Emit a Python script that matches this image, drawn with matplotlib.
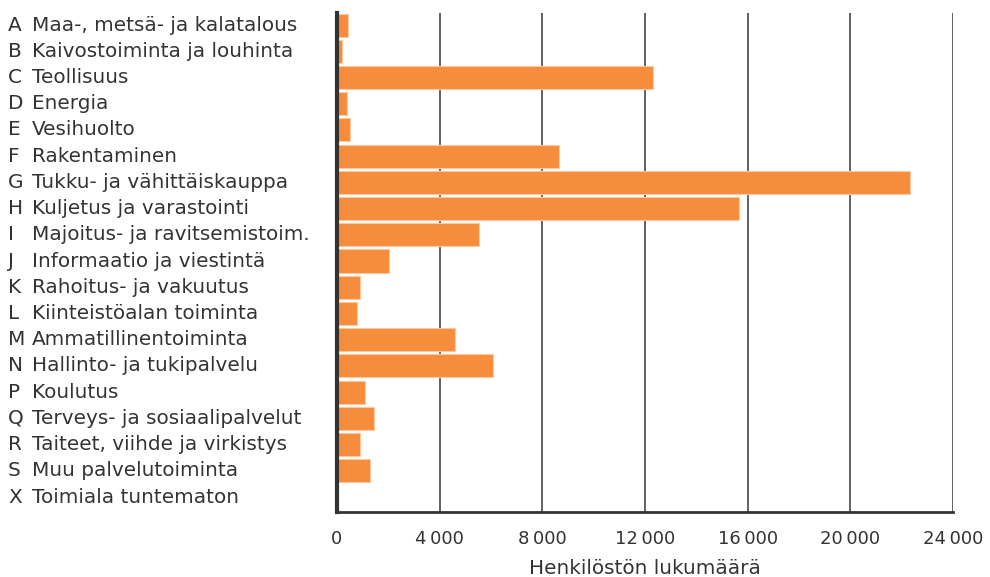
#!/usr/bin/env python3
"""Henkilöstön lukumäärä toimialoittain - horizontal bar chart."""

import matplotlib
matplotlib.use("Agg")
import matplotlib.pyplot as plt
from matplotlib.ticker import FuncFormatter
from matplotlib.transforms import blended_transform_factory

# Data
letters = ["A", "B", "C", "D", "E", "F", "G", "H", "I", "J",
           "K", "L", "M", "N", "P", "Q", "R", "S", "X"]
names = [
    "Maa-, metsä- ja kalatalous",
    "Kaivostoiminta ja louhinta",
    "Teollisuus",
    "Energia",
    "Vesihuolto",
    "Rakentaminen",
    "Tukku- ja vähittäiskauppa",
    "Kuljetus ja varastointi",
    "Majoitus- ja ravitsemistoim.",
    "Informaatio ja viestintä",
    "Rahoitus- ja vakuutus",
    "Kiinteistöalan toiminta",
    "Ammatillinentoiminta",
    "Hallinto- ja tukipalvelu",
    "Koulutus",
    "Terveys- ja sosiaalipalvelut",
    "Taiteet, viihde ja virkistys",
    "Muu palvelutoiminta",
    "Toimiala tuntematon",
]
henkilosto = [410, 180, 12300, 400, 500, 8650, 22330, 15680, 5550, 2020,
              880, 770, 4580, 6080, 1100, 1460, 890, 1270, 0]
xticks = [0, 4000, 8000, 12000, 16000, 20000, 24000]

ORANGE = "#F58D3D"
TEXT = "#333333"
FONT = "DejaVu Sans"

fig = plt.figure(figsize=(9.9, 5.77), dpi=100)
ax = fig.add_axes([0.3404, 0.1127, 0.6222, 0.8648])

ypos = list(range(len(letters)))
ax.barh(ypos, henkilosto, height=0.88, color=ORANGE,
        edgecolor="#FBC8A0", linewidth=0.8, zorder=3)

ax.set_xlim(0, 24000)
ax.set_ylim(len(letters) - 0.43, -0.46)

ax.set_xticks(xticks)
ax.xaxis.set_major_formatter(FuncFormatter(lambda v, p: f"{int(v):,}".replace(",", "\u2009")))
ax.tick_params(axis="x", length=0, pad=13, labelsize=13, labelcolor=TEXT)
for lab in ax.get_xticklabels():
    lab.set_family(FONT)
ax.set_yticks([])

ax.grid(axis="x", color="#555555", linewidth=1.3, zorder=1)
ax.set_axisbelow(True)

for side in ["top", "right"]:
    ax.spines[side].set_visible(False)
ax.spines["left"].set_color(TEXT)
ax.spines["left"].set_linewidth(3)
ax.spines["left"].set_zorder(4)
ax.spines["bottom"].set_color(TEXT)
ax.spines["bottom"].set_linewidth(2)

ax.set_xlabel("Henkilöstön lukumäärä", fontsize=14.4, color=TEXT,
              family=FONT, labelpad=8)

# Category labels: letter column plus name column
trans = blended_transform_factory(fig.transFigure, ax.transData)
for y, (l, n) in enumerate(zip(letters, names)):
    ax.text(8 / 990, y, l, transform=trans, ha="left", va="center",
            fontsize=14.4, color=TEXT, family=FONT)
    ax.text(32 / 990, y, n, transform=trans, ha="left", va="center",
            fontsize=14.4, color=TEXT, family=FONT)

fig.savefig("out.png", dpi=100)
